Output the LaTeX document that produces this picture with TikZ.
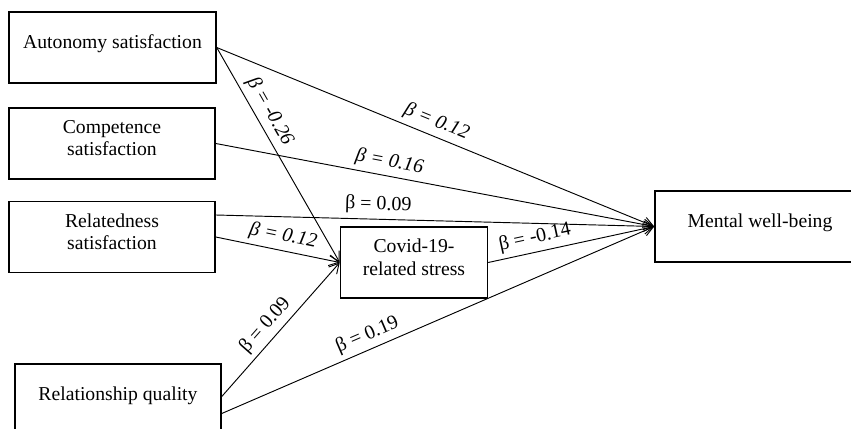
\documentclass[tikz,border=0pt]{standalone}
\usepackage{fontspec}
\setmainfont{Liberation Serif}
\usetikzlibrary{arrows.meta,calc}
\tikzset{
  var/.style={draw, line width=0.9pt, align=center, font=\fontsize{12.6}{14.5}\selectfont,
    minimum width=4.64cm, minimum height=1.6cm, text depth=7pt, inner sep=2pt},
  eff/.style={-{Straight Barb[length=2.2mm, width=2.4mm]}, line width=0.6pt},
  coef/.style={font=\fontsize{12.8}{14.5}\selectfont, sloped, above, inner sep=3pt},
}
\begin{document}
\begin{tikzpicture}[x=0.0225cm, y=-0.0225cm]
\useasboundingbox (0,0) rectangle (851,429);
\node[var, minimum width=4.66cm] (auto) at (112.5,47.5) {Autonomy satisfaction};
\node[var] (comp) at (112,143.5) {Competence\\satisfaction};
\node[var] (rel) at (112,237) {Relatedness\\satisfaction};
\node[var] (rq) at (118,399.5) {Relationship quality};
\node[var, minimum width=3.31cm] (covid) at (414,262.5) {Covid-19-\\related stress};
\node[var, minimum width=4.73cm] (mwb) at (760,226.5) {Mental well-being};
% direct paths to well-being
\draw[eff] (auto.east) -- node[coef, pos=0.49] {\itshape β = 0.12} (mwb.west);
\draw[eff] (comp.east) -- node[coef, pos=0.39] {\itshape β = 0.16} (mwb.west);
\draw[eff] ($(rel.east)+(0,-22)$) -- node[coef, pos=0.37] {β = 0.09} (mwb.west);
\draw[eff] ($(rq.east)+(0,14)$) -- node[coef, pos=0.35] {β = 0.19} (mwb.west);
\draw[eff] (covid.east) -- node[coef, pos=0.3] {β = -0.14} (mwb.west);
% paths to stress
\draw[eff] (auto.east) -- node[coef, pos=0.33] {\itshape β = -0.26} (covid.west);
\draw[eff] (rel.east) -- node[coef, pos=0.52] {\itshape β = 0.12} (covid.west);
\draw[eff] ($(rq.east)+(0,-3)$) -- node[coef, pos=0.46] {β = 0.09} (covid.west);
\end{tikzpicture}
\end{document}
